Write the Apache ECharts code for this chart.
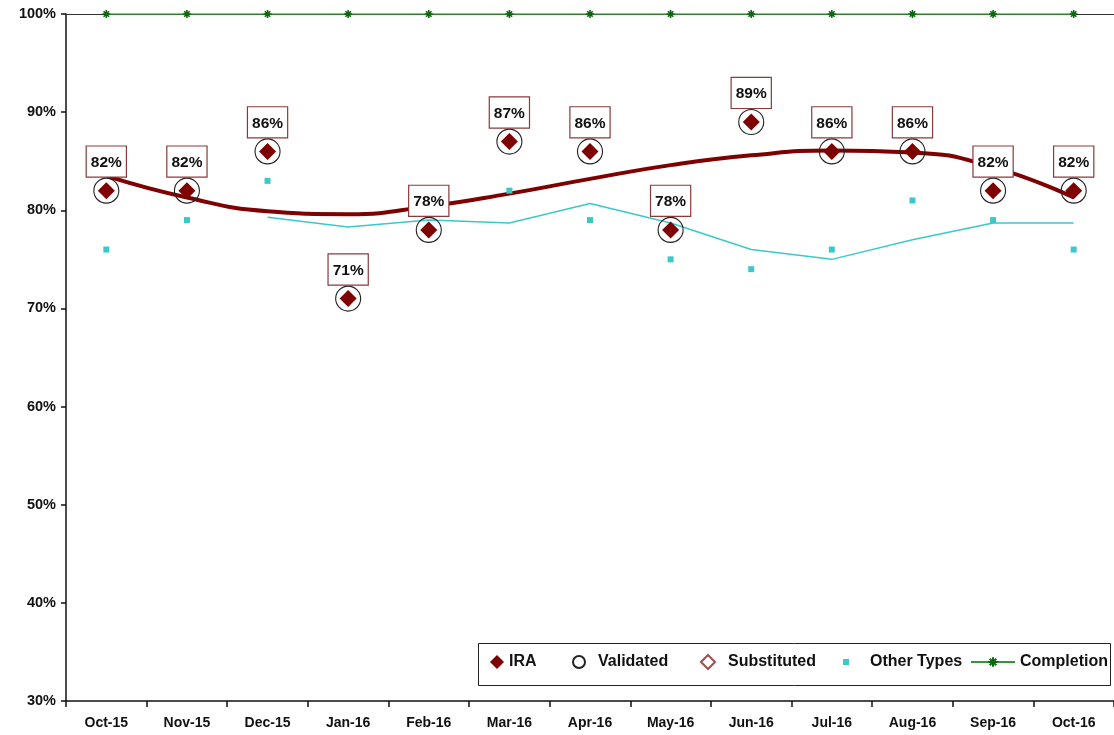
<!DOCTYPE html>
<html><head><meta charset="utf-8">
<script src="https://cdn.jsdelivr.net/npm/echarts@6/dist/echarts.min.js"></script>
<style>html,body{margin:0;padding:0;background:#fff}#c{width:1114px;height:735px}</style>
</head><body><div id="c"></div>
<script>
const categories = ['Oct-15','Nov-15','Dec-15','Jan-16','Feb-16','Mar-16','Apr-16','May-16','Jun-16','Jul-16','Aug-16','Sep-16','Oct-16'];
const iraValues = [82,82,86,71,78,87,86,78,89,86,86,82,82];
const validatedValues = [82,82,86,71,78,87,86,78,89,86,86,82,82];
const substitutedValues = [null,null,null,null,null,null,null,null,null,null,null,null,null];
const otherTypesValues = [76,79,83,73,81,82,79,75,74,76,81,79,76];
const otherTypesAvgLine = [null,null,79.3,78.3,79,78.7,80.7,78.7,76,75,77,78.7,78.7];
const iraTrendLine = [83.5,81.3,79.9,79.6,80.4,81.7,83.2,84.6,85.6,86.1,85.9,84.4,81.3];
const completionValues = [100,100,100,100,100,100,100,100,100,100,100,100,100];
const yMin = 30, yMax = 100, yStep = 10;

const FONT = '"Liberation Sans", Arial, sans-serif';
const DARKRED = '#7f0000';
const CYAN = '#3cc8c8';
const GREEN = '#2f9a2f';
const ASTER = 'path://M5,0L5,10M0,5L10,5M1.6,1.6L8.4,8.4M8.4,1.6L1.6,8.4';

const chart = echarts.init(document.getElementById('c'), null, {renderer:'canvas'});
function leg(name, left, w, h, padLeft){
  return {data:[name], left: left, top: 654, itemWidth: w, itemHeight: h, itemGap: 0, padding: 0,
    textStyle: {fontFamily: FONT, fontWeight: 'bold', fontSize: 16, color: '#111', padding: [0,0,0,padLeft || 0]},
    selectedMode: false};
}
chart.setOption({
  animation: false,
  grid: {left: 66, top: 14, right: -3, bottom: 34, containLabel: false},
  graphic: [{type:'rect', left: 478, top: 643, shape:{width: 632, height: 42}, style:{fill:'#fff', stroke:'#222', lineWidth:1}, z: 0}],
  legend: [
    leg('IRA', 490, 14, 14, 0),
    leg('Validated', 572, 12, 12, 8),
    leg('Substituted', 700, 14, 14, 8),
    leg('Other Types', 843, 6, 6, 16),
    leg('Completion', 970, 44, 12, 0)
  ],
  xAxis: [{
    type: 'category', data: categories, boundaryGap: true,
    axisLine: {lineStyle: {color: '#111', width: 1.5}},
    axisTick: {show: true, length: 6, lineStyle: {color: '#111', width: 1.5}},
    axisLabel: {fontFamily: FONT, fontWeight: 'bold', fontSize: 14, color: '#111', margin: 15},
    splitLine: {show: false}
  },{
    type: 'category', data: categories, position: 'top', boundaryGap: true,
    axisLine: {lineStyle: {color: '#333', width: 1.2}},
    axisTick: {show: false}, axisLabel: {show: false}, splitLine: {show:false}
  }],
  yAxis: {
    type: 'value', min: yMin, max: yMax, interval: yStep,
    axisLine: {show: true, lineStyle: {color: '#111', width: 1.5}},
    axisTick: {show: true, length: 5, lineStyle: {color: '#111', width: 1.5}},
    axisLabel: {formatter: '{value}%', fontFamily: FONT, fontWeight: 'bold', fontSize: 14.5, color: '#111', margin: 10},
    splitLine: {show: false}
  },
  series: [
    {name: 'IRA trend', type: 'line', data: iraTrendLine, smooth: true, symbol: 'none',
      lineStyle: {color: DARKRED, width: 4}, z: 1, silent: true},
    {name: 'Other trend', type: 'line', data: otherTypesAvgLine, smooth: false, symbol: 'none',
      lineStyle: {color: CYAN, width: 1.5}, z: 1, silent: true},
    {name: 'Completion', type: 'line', data: completionValues, symbol: ASTER, symbolSize: 8,
      lineStyle: {color: GREEN, width: 1.5},
      itemStyle: {color: 'none', borderColor: '#0a6a0a', borderWidth: 1.6, opacity: 1}, z: 3},
    {name: 'Other Types', type: 'scatter', data: otherTypesValues, symbol: 'rect', symbolSize: 6,
      itemStyle: {color: CYAN, opacity: 1}, z: 2},
    {name: 'Substituted', type: 'scatter', data: substitutedValues, symbol: 'diamond', symbolSize: 14,
      itemStyle: {color: '#fff', borderColor: '#a05050', borderWidth: 1.2, opacity: 1}, z: 2},
    {name: 'IRA', type: 'scatter', data: iraValues, symbol: 'diamond', symbolSize: 17,
      itemStyle: {color: DARKRED, opacity: 1}, z: 3},
    {name: 'Validated', type: 'scatter', data: validatedValues, symbol: 'circle', symbolSize: 25,
      itemStyle: {color: 'rgba(0,0,0,0)', borderColor: '#222', borderWidth: 1.1, opacity: 1}, z: 4,
      label: {show: true, position: 'top', distance: 1, formatter: p => p.value + '%',
        fontFamily: FONT, fontWeight: 'bold', fontSize: 15.5, color: '#111',
        backgroundColor: '#fff', borderColor: '#8a3a3a', borderWidth: 1.2,
        padding: [8, 4, 6, 4]}}
  ]
});
</script></body></html>
